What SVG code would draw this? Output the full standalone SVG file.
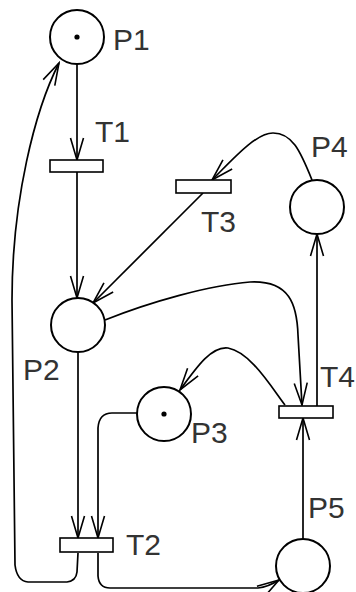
<svg xmlns="http://www.w3.org/2000/svg" width="356" height="592" viewBox="0 0 356 592">
<style>
.place{fill:#fff;stroke:#000;stroke-width:2}
.trans{fill:#fff;stroke:#000;stroke-width:1.6}
.tok{fill:#000}
.lbl{font-family:"Liberation Sans",Arial,sans-serif;font-size:30px;fill:#333}
.arc{fill:none;stroke:#000;stroke-width:1.7;marker-end:url(#ah)}
</style>
<defs>
<marker id="ah" markerUnits="userSpaceOnUse" viewBox="-24 -8 26 16" refX="0" refY="0" markerWidth="26" markerHeight="16" orient="auto">
<path d="M-22,-6.5 L0,0 L-22,6.5" fill="none" stroke="#000" stroke-width="1.6"/>
</marker>
</defs>
<rect width="356" height="592" fill="#fff"/>
<g id="connectors">
<path class="arc" d="M77,64 L77,160"/>
<path class="arc" d="M77,172 L77,298"/>
<path class="arc" d="M312,180 C300,150 292,133 273,133 C256,133 234,158 212,180"/>
<path class="arc" d="M203,193 L93,303"/>
<path class="arc" d="M105,320 C150,302 210,285 250,282 C290,280 297,305 298,335 L302,405"/>
<path class="arc" d="M285,405 C270,385 250,352 228,348 C212,346 198,365 180,390"/>
<path class="arc" d="M317,406 L317,234"/>
<path class="arc" d="M303,539 L303,418"/>
<path class="arc" d="M78,352 L78,538"/>
<path class="arc" d="M137,413 L112,413 Q99,413 98,428 L98,538"/>
<path class="arc" d="M78,553 L77,572 Q76,581 67,582 L28,582 Q17,581 15,565 L12,300 C12,200 35,110 59,63"/>
<path class="arc" d="M98,553 L98,576 Q99,588 110,588 L258,588 Q268,587 279,580"/>
</g>
<g id="P1"><circle class="place" cx="77" cy="37" r="27"/><circle class="tok" cx="77" cy="37" r="2.6"/><text class="lbl" x="113" y="50">P1</text></g>
<g id="T1"><rect class="trans" x="50" y="160" width="53" height="12"/><text class="lbl" x="95" y="142">T1</text></g>
<g id="T3"><rect class="trans" x="176" y="180" width="55" height="13"/><text class="lbl" x="201" y="232">T3</text></g>
<g id="P4"><circle class="place" cx="317" cy="207" r="27"/><text class="lbl" x="311" y="157">P4</text></g>
<g id="P2"><circle class="place" cx="78" cy="325" r="27"/><text class="lbl" x="23" y="380">P2</text></g>
<g id="T4"><rect class="trans" x="279" y="406" width="54" height="12"/><text class="lbl" x="320" y="387">T4</text></g>
<g id="P3"><circle class="place" cx="164" cy="414" r="27"/><circle class="tok" cx="164" cy="414" r="2.6"/><text class="lbl" x="191" y="443">P3</text></g>
<g id="T2"><rect class="trans" x="60" y="538" width="53" height="14"/><text class="lbl" x="126" y="555">T2</text></g>
<g id="P5"><circle class="place" cx="303" cy="566" r="27"/><text class="lbl" x="308" y="518">P5</text></g>
</svg>
